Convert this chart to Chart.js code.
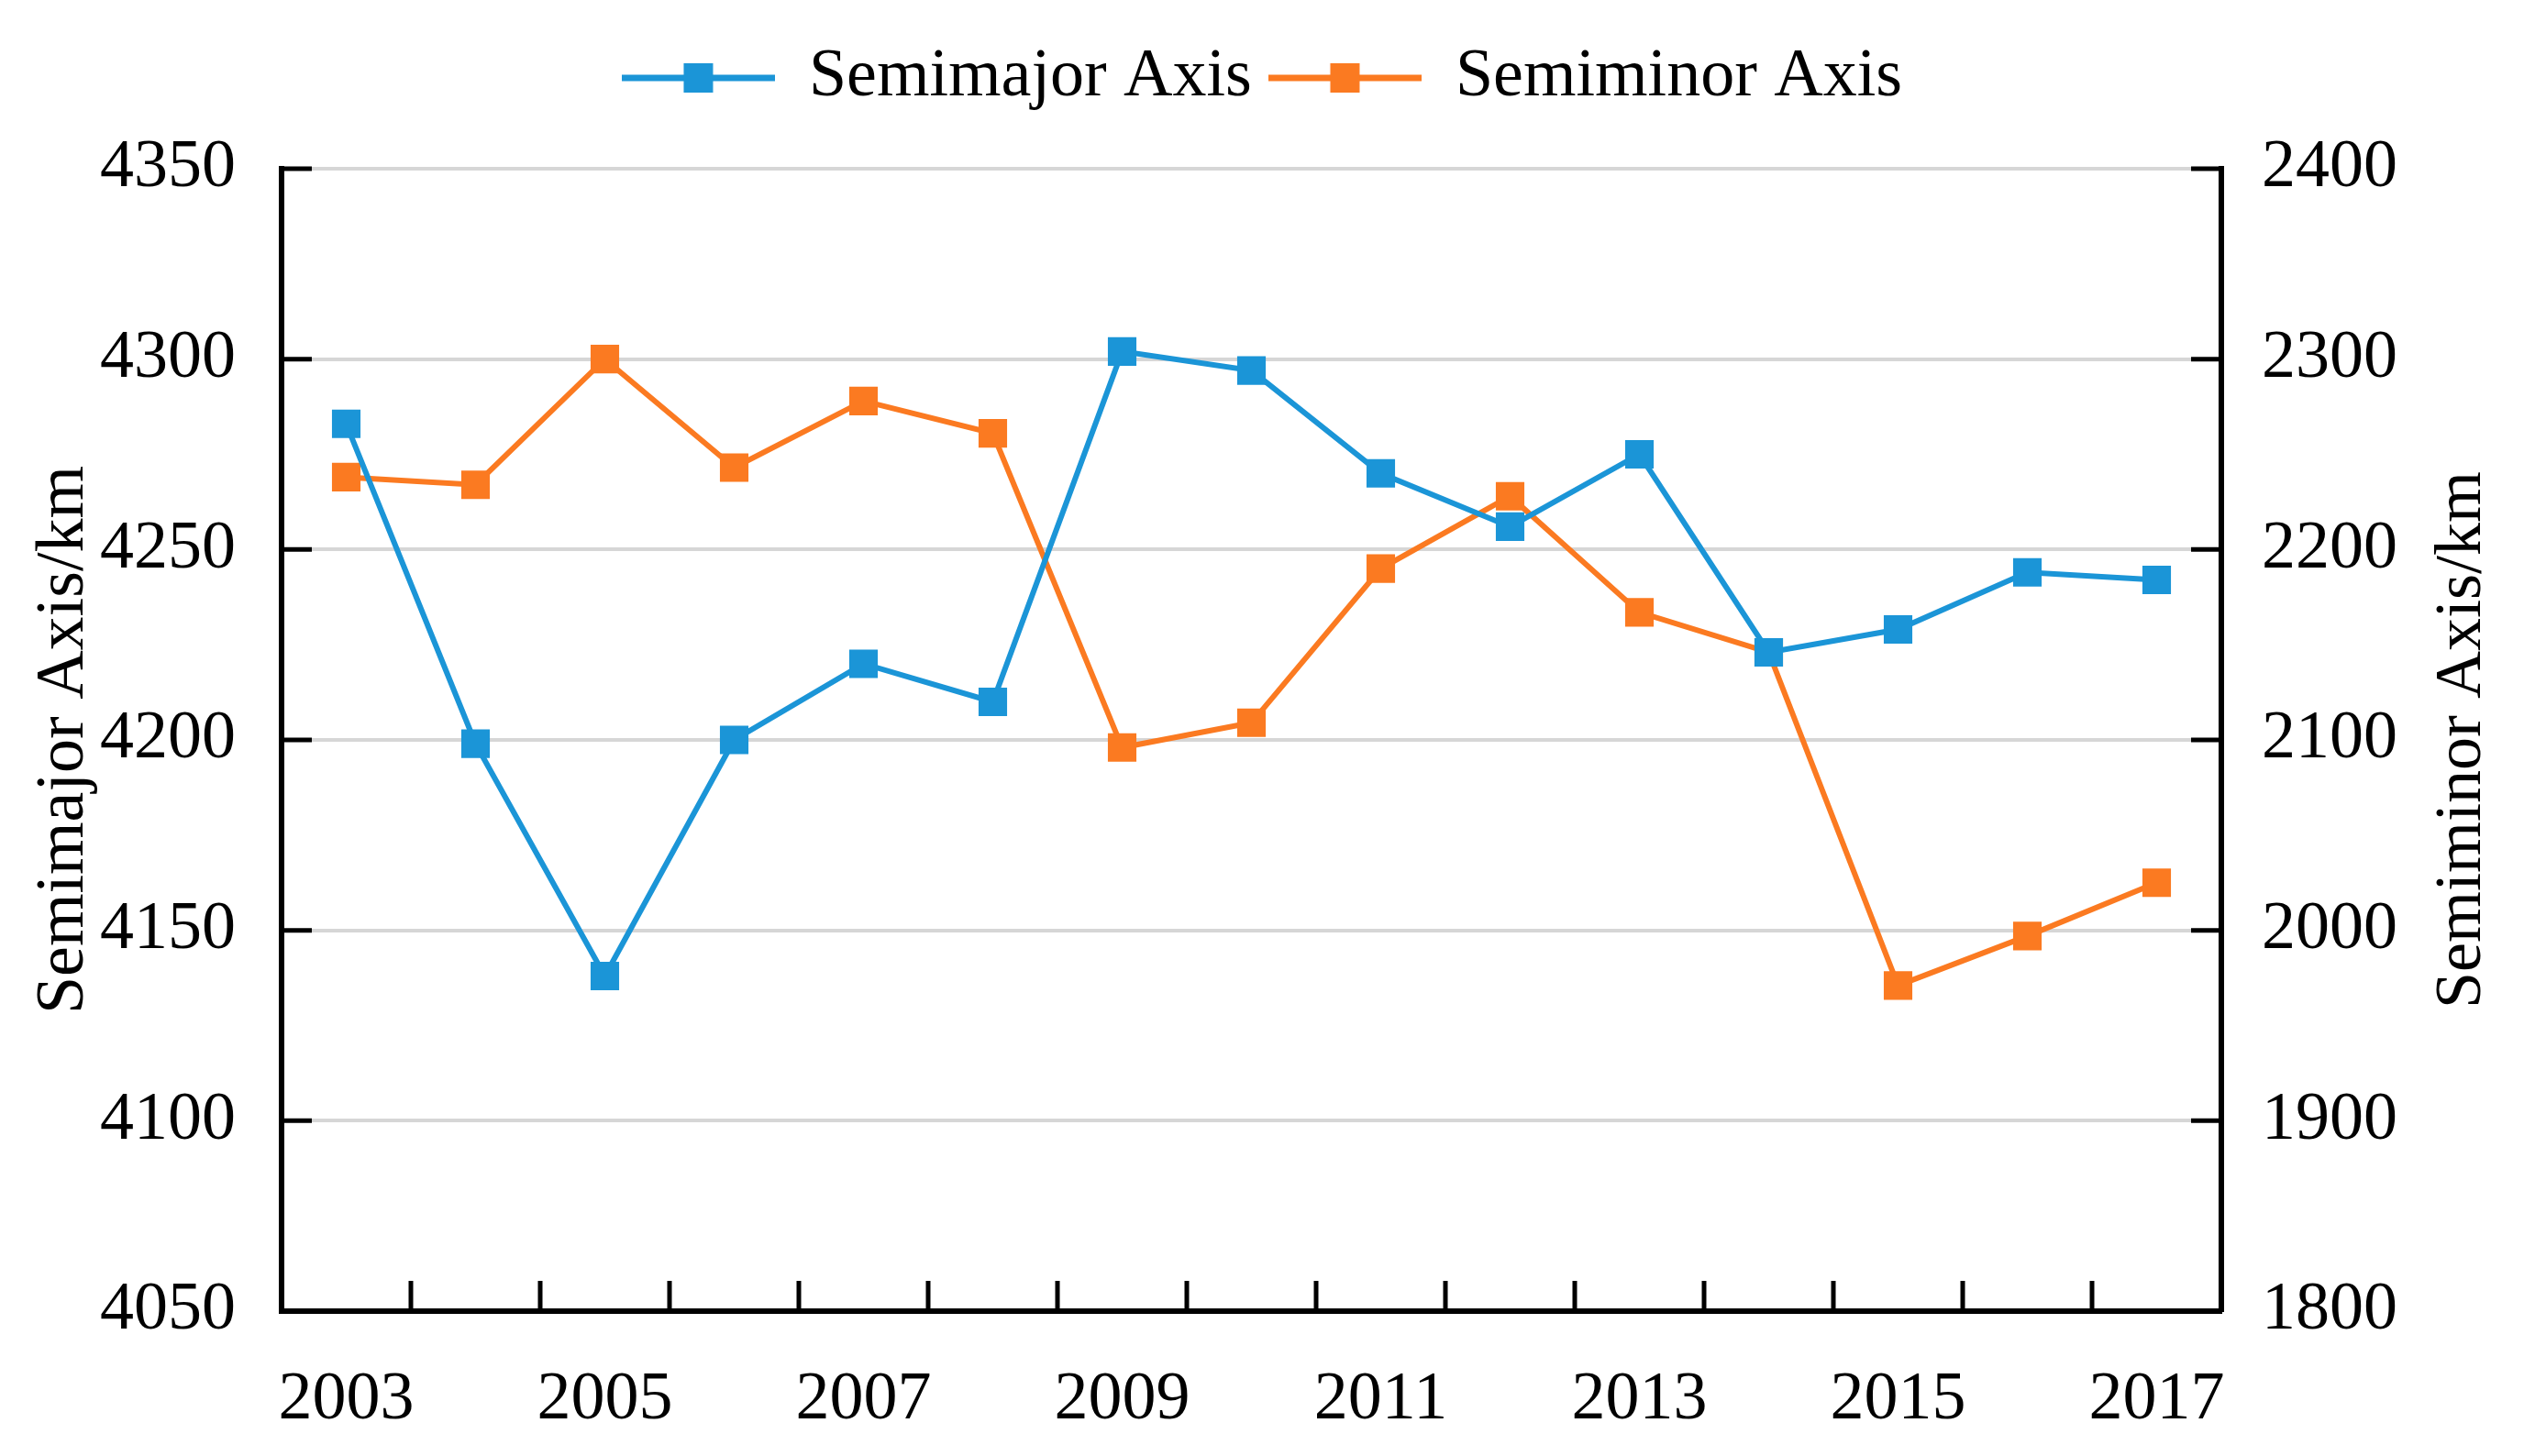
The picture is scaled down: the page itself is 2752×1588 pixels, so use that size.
<!DOCTYPE html>
<html>
<head>
<meta charset="utf-8">
<script src="https://cdn.jsdelivr.net/npm/chart.js@4.4.1/dist/chart.umd.min.js"></script>
<style>
  html, body { margin: 0; padding: 0; background: #ffffff; }
  #wrap { width: 2752px; height: 1588px; }
</style>
</head>
<body>
<div id="wrap"><canvas id="c" width="2752" height="1588"></canvas></div>
<script>
// ---- data ----
const years = ['2003','2004','2005','2006','2007','2008','2009','2010','2011','2012','2013','2014','2015','2016','2017'];
const semimajorAxis = [4283, 4199, 4138, 4200, 4220, 4210, 4302, 4297, 4270, 4256, 4275, 4223, 4229, 4244, 4242];
const semiminorAxis = [2238, 2234, 2300, 2243, 2278, 2261, 2096, 2109, 2190, 2228, 2167, 2146, 1971, 1997, 2025];
const leftTicks = [4050, 4100, 4150, 4200, 4250, 4300, 4350];
const rightTicks = [1800, 1900, 2000, 2100, 2200, 2300, 2400];
const seriesNames = ['Semimajor Axis', 'Semiminor Axis'];
const axisTitles = ['Semimajor Axis/km', 'Semiminor Axis/km'];

// ---- styles ----
const BLUE = '#1b95d7';
const ORANGE = '#fb7a21';
const FONT = 'Liberation Serif';
const FS = 72;

function legendSymbol(color) {
  const c = document.createElement('canvas');
  c.width = 167; c.height = 34;
  const g = c.getContext('2d');
  g.strokeStyle = color; g.lineWidth = 7;
  g.beginPath(); g.moveTo(0, 17); g.lineTo(167, 17); g.stroke();
  g.fillStyle = color;
  g.fillRect(83.5 - 16, 1, 32, 32);
  return c;
}
const legendSymbols = [legendSymbol(BLUE), legendSymbol(ORANGE)];

const axisDecor = {
  id: 'axisDecor',
  beforeDatasetsDraw(chart) {
    const ctx = chart.ctx;
    const a = chart.chartArea;
    const xs = chart.scales.x, yl = chart.scales.y, yr = chart.scales.y2;
    const L = 33;
    ctx.save();
    ctx.strokeStyle = '#000';
    ctx.lineWidth = 5;
    ctx.beginPath();
    leftTicks.forEach(v => { const y = yl.getPixelForValue(v); ctx.moveTo(a.left, y); ctx.lineTo(a.left + L, y); });
    rightTicks.forEach(v => { const y = yr.getPixelForValue(v); ctx.moveTo(a.right, y); ctx.lineTo(a.right - L, y); });
    for (let i = 0; i < years.length - 1; i++) {
      const x = (xs.getPixelForValue(i) + xs.getPixelForValue(i + 1)) / 2;
      ctx.moveTo(x, a.bottom); ctx.lineTo(x, a.bottom - L);
    }
    ctx.stroke();
    ctx.restore();
  },
  afterDraw(chart) {
    const ctx = chart.ctx;
    const a = chart.chartArea;
    const yr = chart.scales.y2;
    ctx.save();
    ctx.translate(yr.right - 67, (a.top + a.bottom) / 2);
    ctx.rotate(-Math.PI / 2);
    ctx.font = FS + 'px "' + FONT + '"';
    ctx.fillStyle = '#000';
    ctx.textAlign = 'center';
    ctx.textBaseline = 'middle';
    ctx.fillText(axisTitles[1], 0, 0);
    ctx.restore();
  }
};

new Chart(document.getElementById('c'), {
  type: 'line',
  data: {
    labels: years,
    datasets: [
      {
        label: seriesNames[0], data: semimajorAxis, yAxisID: 'y',
        borderColor: BLUE, backgroundColor: BLUE, borderWidth: 6,
        pointStyle: 'rect', pointRadius: 22, pointBorderWidth: 0, pointBackgroundColor: BLUE,
        tension: 0
      },
      {
        label: seriesNames[1], data: semiminorAxis, yAxisID: 'y2',
        borderColor: ORANGE, backgroundColor: ORANGE, borderWidth: 6,
        pointStyle: 'rect', pointRadius: 22, pointBorderWidth: 0, pointBackgroundColor: ORANGE,
        tension: 0
      }
    ]
  },
  options: {
    responsive: false,
    devicePixelRatio: 1,
    animation: false,
    layout: { padding: { top: 30, left: 0, right: 0, bottom: 0 } },
    plugins: {
      tooltip: { enabled: false },
      legend: {
        display: true,
        position: 'top',
        labels: {
          font: { family: FONT, size: 74 },
          color: '#000',
          usePointStyle: true,
          pointStyleWidth: 167,
          padding: 18,
          generateLabels(chart) {
            const items = Chart.defaults.plugins.legend.labels.generateLabels(chart);
            items.forEach((it, i) => { it.pointStyle = legendSymbols[i]; });
            return items;
          }
        }
      },
      subtitle: {
        display: true,
        text: '',
        weight: 500,
        font: { size: 10, lineHeight: 1 },
        padding: { top: 0, bottom: 42 }
      }
    },
    scales: {
      x: {
        type: 'category',
        offset: true,
        grid: { display: false },
        border: { display: true, color: '#000', width: 6 },
        ticks: {
          autoSkip: false, maxRotation: 0, minRotation: 0,
          font: { family: FONT, size: 74 }, color: '#000', padding: 45,
          callback(value, index) { return index % 2 === 0 ? years[index] : ''; }
        },
        afterFit(s) { s.height = 158; }
      },
      y: {
        position: 'left',
        min: leftTicks[0], max: leftTicks[leftTicks.length - 1],
        ticks: {
          stepSize: 50, font: { family: FONT, size: 74 }, color: '#000', padding: 50,
          callback(value) { return String(value); }
        },
        grid: { color: '#d6d6d6', lineWidth: 4, drawTicks: false },
        border: { display: true, color: '#000', width: 6 },
        title: {
          display: true, text: axisTitles[0], color: '#000',
          font: { family: FONT, size: 74 }, padding: { top: 26, bottom: 0 }
        },
        afterFit(s) { s.width = 307; }
      },
      y2: {
        position: 'right',
        min: rightTicks[0], max: rightTicks[rightTicks.length - 1],
        ticks: {
          stepSize: 100, font: { family: FONT, size: 74 }, color: '#000', padding: 44,
          callback(value) { return String(value); }
        },
        grid: { drawOnChartArea: false, drawTicks: false },
        border: { display: true, color: '#000', width: 6 },
        afterFit(s) { s.width = 330; }
      }
    }
  },
  plugins: [axisDecor]
});
</script>
</body>
</html>
